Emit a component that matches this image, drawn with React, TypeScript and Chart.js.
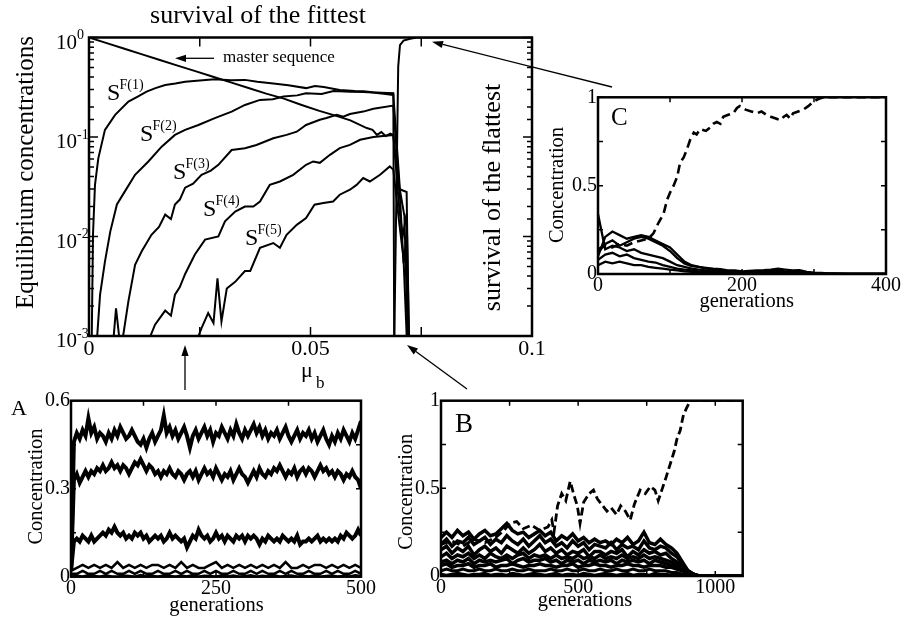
import React, { useEffect, useRef } from 'react';
import { Chart, registerables } from 'chart.js';

Chart.register(...registerables);

const FONT = '"Liberation Serif", "Times New Roman", serif';
Chart.defaults.font.family = FONT;

// ---------------- main panel: equilibrium concentrations vs mu_b ----------------
const MU_MASTER = [0, 0.004, 0.008, 0.012, 0.016, 0.02, 0.024, 0.028, 0.032, 0.036, 0.04, 0.044, 0.048, 0.052, 0.056, 0.059, 0.0627, 0.064, 0.065, 0.066, 0.067, 0.068, 0.0687, 0.07, 0.0717, 0.0722];
const C_MASTER = [1.0, 0.878, 0.771, 0.677, 0.595, 0.522, 0.459, 0.403, 0.354, 0.311, 0.273, 0.243, 0.21, 0.183, 0.162, 0.147, 0.123, 0.118, 0.105, 0.112, 0.102, 0.108, 0.105, 0.03, 0.028, 0.0008];

const MU_SF1 = [0.0006, 0.0009, 0.00135, 0.0021, 0.0036, 0.0059, 0.0089, 0.011, 0.013, 0.015, 0.0172, 0.0195, 0.0217, 0.025, 0.0284, 0.032, 0.0352, 0.038, 0.0416, 0.045, 0.049, 0.051, 0.053, 0.0566, 0.06, 0.062, 0.064, 0.066, 0.0687, 0.0689];
const C_SF1 = [0.0008, 0.0104, 0.033, 0.061, 0.118, 0.167, 0.227, 0.255, 0.286, 0.31, 0.333, 0.345, 0.36, 0.37, 0.38, 0.372, 0.375, 0.36, 0.345, 0.332, 0.31, 0.325, 0.318, 0.297, 0.29, 0.288, 0.281, 0.279, 0.275, 0.0008];

const MU_SF2 = [0.0017, 0.0025, 0.0036, 0.0048, 0.0063, 0.0081, 0.0104, 0.0134, 0.0164, 0.0194, 0.0217, 0.0247, 0.0284, 0.0322, 0.0352, 0.0386, 0.0415, 0.0439, 0.047, 0.049, 0.0525, 0.0552, 0.059, 0.062, 0.064, 0.0665, 0.0687, 0.0702, 0.0712, 0.072];
const C_SF2 = [0.0008, 0.0026, 0.0056, 0.0112, 0.021, 0.0284, 0.0417, 0.0568, 0.08, 0.105, 0.118, 0.132, 0.155, 0.18, 0.21, 0.236, 0.24, 0.255, 0.262, 0.275, 0.27, 0.29, 0.285, 0.283, 0.28, 0.272, 0.265, 0.029, 0.016, 0.0008];

const MU_SF3 = [0.0054, 0.0061, 0.0069, 0.0077, 0.0089, 0.0104, 0.0119, 0.0141, 0.0158, 0.0172, 0.0185, 0.0194, 0.0205, 0.0217, 0.0235, 0.0254, 0.0275, 0.0292, 0.0322, 0.0352, 0.0378, 0.0416, 0.0446, 0.0469, 0.049, 0.0521, 0.0536, 0.0559, 0.0574, 0.0589, 0.0619, 0.0642, 0.0687, 0.0702, 0.071, 0.0716, 0.0722];
const C_SF3 = [0.0008, 0.0019, 0.0009, 0.001, 0.00224, 0.0052, 0.0071, 0.0104, 0.0125, 0.0166, 0.015, 0.021, 0.0235, 0.031, 0.034, 0.0417, 0.046, 0.0525, 0.074, 0.077, 0.083, 0.097, 0.105, 0.113, 0.132, 0.149, 0.155, 0.167, 0.16, 0.17, 0.18, 0.192, 0.207, 0.025, 0.0054, 0.0093, 0.0008];

const MU_SF4 = [0.013, 0.0149, 0.0172, 0.0185, 0.0194, 0.0205, 0.0217, 0.0239, 0.0262, 0.0292, 0.0307, 0.033, 0.0352, 0.0371, 0.0386, 0.0408, 0.0431, 0.0461, 0.049, 0.0506, 0.0521, 0.0544, 0.0566, 0.0589, 0.0612, 0.0642, 0.0687, 0.07, 0.0708, 0.0717, 0.0723];
const C_SF4 = [0.0008, 0.0013, 0.0018, 0.0016, 0.0026, 0.0031, 0.0042, 0.0066, 0.0093, 0.01, 0.0142, 0.0178, 0.02, 0.02, 0.0225, 0.033, 0.0357, 0.0417, 0.0526, 0.0568, 0.055, 0.0662, 0.0773, 0.0834, 0.0937, 0.1, 0.105, 0.02, 0.01, 0.017, 0.0008];

const MU_SF5 = [0.0239, 0.0254, 0.0269, 0.0281, 0.029, 0.0299, 0.0311, 0.033, 0.0352, 0.0364, 0.0386, 0.0416, 0.0431, 0.0446, 0.0469, 0.049, 0.0509, 0.0529, 0.0551, 0.0566, 0.0589, 0.0604, 0.0619, 0.0634, 0.0657, 0.0679, 0.0687, 0.07, 0.071, 0.0718];
const C_SF5 = [0.0008, 0.0012, 0.0017, 0.00135, 0.0038, 0.0014, 0.003, 0.0035, 0.0045, 0.0045, 0.0077, 0.0086, 0.0077, 0.0104, 0.0131, 0.0153, 0.0209, 0.0217, 0.0225, 0.0263, 0.0295, 0.033, 0.0387, 0.0357, 0.0417, 0.0506, 0.047, 0.014, 0.006, 0.0008];

const MU_FLAT = [0.0689, 0.0698, 0.0702, 0.071, 0.0725, 0.074, 0.1];
const C_FLAT = [0.0008, 0.51, 0.84, 0.93, 0.97, 1.0, 1.0];

const MAIN_X_TICKS = [0, 0.05, 0.1];
const MAIN_X_TEXT = ['0', '0.05', '0.1'];
const MAIN_Y_EXPONENTS = [0, -1, -2, -3];

// ---------------- panel A ----------------
const GEN_A5 = [0, 5, 10, 15, 20, 25, 30, 35, 40, 45, 50, 55, 60, 65, 70, 75, 80, 85, 90, 95, 100, 105, 110, 115, 120, 125, 130, 135, 140, 145, 150, 155, 160, 165, 170, 175, 180, 185, 190, 195, 200, 205, 210, 215, 220, 225, 230, 235, 240, 245, 250, 255, 260, 265, 270, 275, 280, 285, 290, 295, 300, 305, 310, 315, 320, 325, 330, 335, 340, 345, 350, 355, 360, 365, 370, 375, 380, 385, 390, 395, 400, 405, 410, 415, 420, 425, 430, 435, 440, 445, 450, 455, 460, 465, 470, 475, 480, 485, 490, 495, 500];
const A1 = [0.02,
  0.46, 0.49, 0.47, 0.50, 0.48, 0.54, 0.49, 0.51, 0.47, 0.49,
  0.48, 0.46, 0.49, 0.47, 0.50, 0.48, 0.51, 0.49, 0.47, 0.48,
  0.50, 0.48, 0.46, 0.45, 0.47, 0.44, 0.47, 0.49, 0.46, 0.48,
  0.50, 0.55, 0.49, 0.51, 0.48, 0.50, 0.47, 0.49, 0.51, 0.48,
  0.44, 0.48, 0.50, 0.47, 0.49, 0.51, 0.48, 0.50, 0.46, 0.49,
  0.48, 0.51, 0.49, 0.47, 0.50, 0.48, 0.52, 0.49, 0.47, 0.50,
  0.48, 0.50, 0.52, 0.49, 0.51, 0.48, 0.50, 0.47, 0.49, 0.48,
  0.50, 0.47, 0.49, 0.51, 0.48, 0.46, 0.48, 0.50, 0.47, 0.49,
  0.48, 0.50, 0.47, 0.49, 0.46, 0.48, 0.50, 0.47, 0.45, 0.48,
  0.46, 0.49, 0.47, 0.50, 0.48, 0.46, 0.49, 0.47, 0.50, 0.53];
const A2 = [0.02,
  0.33, 0.35, 0.32, 0.34, 0.36, 0.34, 0.36, 0.35, 0.37, 0.36,
  0.38, 0.36, 0.37, 0.39, 0.37, 0.38, 0.36, 0.38, 0.37, 0.35,
  0.37, 0.39, 0.38, 0.40, 0.38, 0.36, 0.38, 0.37, 0.35, 0.36,
  0.34, 0.36, 0.35, 0.37, 0.35, 0.34, 0.36, 0.35, 0.33, 0.35,
  0.36, 0.34, 0.36, 0.33, 0.35, 0.37, 0.35, 0.36, 0.34, 0.37,
  0.35, 0.33, 0.35, 0.34, 0.36, 0.33, 0.35, 0.37, 0.35, 0.34,
  0.32, 0.34, 0.36, 0.34, 0.37, 0.35, 0.34, 0.36, 0.35, 0.37,
  0.36, 0.38, 0.36, 0.34, 0.36, 0.35, 0.37, 0.34, 0.36, 0.37,
  0.35, 0.37, 0.36, 0.34, 0.36, 0.38, 0.36, 0.37, 0.35, 0.36,
  0.34, 0.36, 0.35, 0.33, 0.35, 0.34, 0.36, 0.34, 0.33, 0.30];
const A3 = [0.02,
  0.12, 0.13, 0.12, 0.14, 0.13, 0.12, 0.14, 0.12, 0.13, 0.14,
  0.15, 0.14, 0.16, 0.15, 0.17, 0.15, 0.14, 0.15, 0.13, 0.14,
  0.13, 0.15, 0.14, 0.15, 0.13, 0.14, 0.12, 0.13, 0.14, 0.13,
  0.14, 0.12, 0.13, 0.15, 0.13, 0.14, 0.13, 0.12, 0.13, 0.10,
  0.12, 0.14, 0.13, 0.16, 0.14, 0.13, 0.14, 0.12, 0.13, 0.15,
  0.13, 0.14, 0.12, 0.14, 0.13, 0.12, 0.14, 0.13, 0.14, 0.12,
  0.14, 0.13, 0.14, 0.13, 0.11, 0.13, 0.12, 0.14, 0.13, 0.12,
  0.13, 0.12, 0.14, 0.13, 0.12, 0.13, 0.12, 0.14, 0.11, 0.12,
  0.12, 0.13, 0.12, 0.13, 0.14, 0.12, 0.13, 0.12, 0.13, 0.12,
  0.13, 0.12, 0.14, 0.13, 0.15, 0.14, 0.13, 0.14, 0.16, 0.14];
const GEN_A10 = [0, 10, 20, 30, 40, 50, 60, 70, 80, 90, 100, 110, 120, 130, 140, 150, 160, 170, 180, 190, 200, 210, 220, 230, 240, 250, 260, 270, 280, 290, 300, 310, 320, 330, 340, 350, 360, 370, 380, 390, 400, 410, 420, 430, 440, 450, 460, 470, 480, 490, 500];
const A4 = [0.02,
  0.03, 0.04, 0.03, 0.04, 0.03, 0.04, 0.03, 0.05, 0.03, 0.04,
  0.03, 0.04, 0.03, 0.04, 0.04, 0.03, 0.04, 0.03, 0.05, 0.03,
  0.04, 0.03, 0.03, 0.04, 0.05, 0.03, 0.04, 0.03, 0.04, 0.03,
  0.04, 0.03, 0.04, 0.03, 0.04, 0.03, 0.05, 0.03, 0.03, 0.04,
  0.03, 0.04, 0.04, 0.03, 0.04, 0.03, 0.04, 0.03, 0.04, 0.03];
const A5 = [0.01,
  0.01, 0.02, 0.01, 0.01, 0.02, 0.01, 0.02, 0.01, 0.01, 0.02,
  0.01, 0.02, 0.01, 0.01, 0.02, 0.01, 0.01, 0.02, 0.01, 0.02,
  0.01, 0.01, 0.02, 0.01, 0.02, 0.01, 0.01, 0.02, 0.01, 0.01,
  0.02, 0.01, 0.02, 0.01, 0.01, 0.02, 0.01, 0.02, 0.01, 0.01,
  0.02, 0.01, 0.01, 0.02, 0.01, 0.02, 0.01, 0.01, 0.02, 0.01];
const A6 = [0.0,
  0.004, 0.0, 0.006, 0.002, 0.0, 0.005, 0.001, 0.0, 0.004, 0.002,
  0.0, 0.006, 0.001, 0.003, 0.0, 0.005, 0.002, 0.0, 0.004, 0.001,
  0.006, 0.0, 0.003, 0.002, 0.0, 0.005, 0.001, 0.004, 0.0, 0.002,
  0.005, 0.0, 0.003, 0.001, 0.006, 0.0, 0.002, 0.004, 0.0, 0.003,
  0.001, 0.005, 0.0, 0.002, 0.004, 0.0, 0.003, 0.001, 0.005, 0.002];
const A_X_TICKS = [0, 250, 500];
const A_X_TEXT = ['0', '250', '500'];
const A_Y_TICKS = [0, 0.3, 0.6];
const A_Y_TEXT = ['0', '0.3', '0.6'];

// ---------------- panel B ----------------
const GEN_B = [0, 20, 40, 60, 80, 100, 120, 140, 160, 180, 200, 220, 240, 260, 280, 300, 320, 340, 360, 380, 400, 420, 440, 460, 480, 500, 520, 540, 560, 580, 600, 620, 640, 660, 680, 700, 720, 740, 760, 780, 800, 820, 840, 860, 880, 900, 920, 940, 960, 980, 1000, 1020, 1040, 1060, 1080, 1100];
const B1 = [0.22, 0.25, 0.22, 0.26, 0.23, 0.25, 0.21, 0.24, 0.26, 0.23, 0.24, 0.27, 0.30, 0.26, 0.24, 0.25, 0.22, 0.24, 0.26, 0.23,
  0.25, 0.20, 0.23, 0.21, 0.24, 0.20, 0.22, 0.19, 0.21, 0.19,
  0.20, 0.18, 0.21, 0.19, 0.22, 0.18, 0.20, 0.25, 0.19, 0.18,
  0.21, 0.18, 0.16, 0.13, 0.08, 0.03, 0.01, 0, 0, 0,
  0, 0, 0, 0, 0, 0];
const B7 = [0.18, 0.21, 0.17, 0.20, 0.19, 0.22, 0.18, 0.20, 0.22, 0.18, 0.21, 0.19, 0.23, 0.20, 0.18, 0.21, 0.17, 0.20, 0.23, 0.19,
  0.21, 0.17, 0.19, 0.16, 0.20, 0.17, 0.19, 0.15, 0.18, 0.17,
  0.16, 0.19, 0.15, 0.18, 0.16, 0.17, 0.15, 0.20, 0.16, 0.15,
  0.17, 0.16, 0.13, 0.11, 0.07, 0.03, 0.01, 0, 0, 0,
  0, 0, 0, 0, 0, 0];
const B2 = [0.15, 0.17, 0.13, 0.16, 0.14, 0.17, 0.12, 0.15, 0.17, 0.14, 0.16, 0.13, 0.17, 0.15, 0.13, 0.16, 0.13, 0.15, 0.18, 0.14,
  0.16, 0.13, 0.15, 0.12, 0.14, 0.13, 0.15, 0.11, 0.14, 0.14,
  0.12, 0.14, 0.13, 0.15, 0.11, 0.14, 0.12, 0.15, 0.13, 0.14,
  0.12, 0.13, 0.10, 0.08, 0.055, 0.03, 0.01, 0, 0, 0,
  0, 0, 0, 0, 0, 0];
const B3 = [0.11, 0.13, 0.10, 0.12, 0.11, 0.13, 0.10, 0.12, 0.10, 0.13, 0.11, 0.10, 0.12, 0.10, 0.12, 0.13, 0.10, 0.12, 0.11, 0.12,
  0.10, 0.12, 0.10, 0.11, 0.10, 0.12, 0.10, 0.11, 0.10, 0.12,
  0.10, 0.11, 0.10, 0.12, 0.10, 0.11, 0.10, 0.12, 0.10, 0.11,
  0.10, 0.09, 0.08, 0.06, 0.04, 0.02, 0.01, 0, 0, 0,
  0, 0, 0, 0, 0, 0];
const B8 = [0.08, 0.09, 0.07, 0.09, 0.08, 0.10, 0.07, 0.09, 0.08, 0.09, 0.08, 0.09, 0.10, 0.07, 0.09, 0.10, 0.08, 0.09, 0.09, 0.10,
  0.08, 0.09, 0.07, 0.09, 0.08, 0.09, 0.07, 0.09, 0.08, 0.09,
  0.08, 0.09, 0.07, 0.09, 0.08, 0.09, 0.08, 0.09, 0.07, 0.09,
  0.08, 0.07, 0.06, 0.05, 0.035, 0.015, 0.005, 0, 0, 0,
  0, 0, 0, 0, 0, 0];
const B4 = [0.06, 0.07, 0.05, 0.06, 0.06, 0.07, 0.05, 0.06, 0.06, 0.07, 0.05, 0.06, 0.06, 0.07, 0.06, 0.05, 0.06, 0.06, 0.07, 0.06,
  0.06, 0.05, 0.06, 0.06, 0.07, 0.05, 0.06, 0.06, 0.07, 0.06,
  0.06, 0.05, 0.06, 0.06, 0.07, 0.06, 0.06, 0.05, 0.06, 0.06,
  0.06, 0.05, 0.05, 0.04, 0.03, 0.01, 0, 0, 0, 0,
  0, 0, 0, 0, 0, 0];
const B5 = [0.03, 0.04, 0.03, 0.03, 0.04, 0.03, 0.03, 0.04, 0.03, 0.03, 0.04, 0.03, 0.03, 0.04, 0.03, 0.03, 0.04, 0.03, 0.03, 0.03,
  0.04, 0.03, 0.03, 0.04, 0.03, 0.03, 0.04, 0.03, 0.03, 0.04,
  0.03, 0.03, 0.04, 0.03, 0.03, 0.04, 0.03, 0.03, 0.04, 0.03,
  0.03, 0.03, 0.02, 0.02, 0.01, 0.01, 0, 0, 0, 0,
  0, 0, 0, 0, 0, 0];
const B6 = [0.01, 0.005, 0.01, 0.015, 0.01, 0.005, 0.01, 0.01, 0.015, 0.005, 0.01, 0.01, 0.005, 0.015, 0.01, 0.005, 0.01, 0.015, 0.01, 0.005,
  0.01, 0.015, 0.005, 0.01, 0.01, 0.005, 0.015, 0.01, 0.005, 0.01,
  0.015, 0.01, 0.005, 0.01, 0.015, 0.005, 0.01, 0.01, 0.005, 0.015,
  0.01, 0.01, 0.005, 0.01, 0.005, 0, 0, 0, 0, 0,
  0, 0, 0, 0, 0, 0];
const GEN_BF = [0, 40, 80, 120, 160, 200, 230, 250, 276, 300, 330, 360, 390, 404, 412, 425, 440, 455, 471, 485, 497, 507, 520, 540, 556, 570, 590, 605, 620, 640, 655, 672, 690, 705, 726, 745, 763, 780, 792, 805, 820, 836, 850, 860, 872, 884, 896, 909, 1000, 1100];
const BF = [0.18, 0.20, 0.17, 0.21, 0.19, 0.22, 0.26, 0.30, 0.31, 0.27, 0.29, 0.26, 0.28, 0.32, 0.25, 0.40, 0.47, 0.43, 0.54, 0.46, 0.40, 0.30, 0.42, 0.47, 0.49, 0.44, 0.40, 0.37, 0.39, 0.35, 0.40, 0.37, 0.32, 0.41, 0.49, 0.47, 0.51, 0.49, 0.43, 0.49, 0.56, 0.64, 0.71, 0.78, 0.83, 0.92, 0.96, 1.0, 1.0, 1.0];
const B_X_TICKS = [0, 500, 1000];
const B_X_TEXT = ['0', '500', '1000'];
const B_Y_TICKS = [0, 0.5, 1];
const B_Y_TEXT = ['0', '0.5', '1'];

// ---------------- panel C ----------------
const GEN_C = [0, 10, 20, 30, 40, 50, 60, 70, 80, 90, 100, 110, 120, 130, 140, 150, 160, 170, 180, 190, 200, 210, 220, 230, 240, 250, 260, 270, 280, 290, 300, 310, 320, 330, 340, 350, 360, 370, 380, 390, 400];
const C1 = [0.10, 0.21, 0.24, 0.22, 0.20, 0.21, 0.22, 0.21, 0.19, 0.17, 0.15, 0.11, 0.07, 0.05, 0.04, 0.035, 0.03, 0.028, 0.02, 0.02, 0.015, 0.018, 0.02, 0.022, 0.025, 0.03, 0.025, 0.02, 0.022, 0.012, 0.008, 0.006, 0.004, 0.003, 0.002, 0.001, 0, 0, 0, 0, 0];
const C2 = [0.12, 0.17, 0.19, 0.16, 0.18, 0.20, 0.21, 0.20, 0.18, 0.16, 0.13, 0.09, 0.06, 0.045, 0.04, 0.03, 0.025, 0.02, 0.015, 0.012, 0.01, 0.012, 0.015, 0.012, 0.018, 0.02, 0.015, 0.012, 0.01, 0.008, 0.005, 0.003, 0.002, 0.001, 0, 0, 0, 0, 0, 0, 0];
const C3 = [0.34, 0.14, 0.16, 0.15, 0.13, 0.14, 0.12, 0.11, 0.10, 0.09, 0.07, 0.05, 0.04, 0.03, 0.025, 0.02, 0.018, 0.015, 0.012, 0.01, 0.008, 0.01, 0.012, 0.01, 0.015, 0.012, 0.01, 0.008, 0.006, 0.004, 0.003, 0.002, 0.001, 0, 0, 0, 0, 0, 0, 0, 0];
const C4 = [0.08, 0.11, 0.12, 0.10, 0.11, 0.09, 0.08, 0.07, 0.065, 0.05, 0.04, 0.03, 0.025, 0.02, 0.015, 0.012, 0.01, 0.008, 0.006, 0.005, 0.005, 0.006, 0.008, 0.006, 0.01, 0.008, 0.006, 0.005, 0.004, 0.003, 0.002, 0.001, 0, 0, 0, 0, 0, 0, 0, 0, 0];
const C5 = [0.05, 0.07, 0.06, 0.07, 0.06, 0.05, 0.05, 0.04, 0.035, 0.03, 0.025, 0.02, 0.015, 0.012, 0.01, 0.008, 0.006, 0.005, 0.004, 0.003, 0.003, 0.004, 0.005, 0.004, 0.006, 0.005, 0.004, 0.003, 0.002, 0.002, 0.001, 0, 0, 0, 0, 0, 0, 0, 0, 0, 0];
const GEN_CF = [0, 10, 20, 30, 40, 50, 60, 70, 77, 84, 91, 96, 100, 105, 110, 114, 119, 123, 128, 133, 137, 142, 150, 156, 160, 165, 170, 174, 180, 188, 193, 197, 205, 213, 221, 227, 234, 240, 247, 253, 258, 262, 267, 271, 278, 285, 292, 299, 306, 313, 330, 400];
const CF = [0.14, 0.16, 0.15, 0.17, 0.16, 0.18, 0.19, 0.20, 0.23, 0.29, 0.34, 0.42, 0.46, 0.50, 0.55, 0.63, 0.66, 0.70, 0.76, 0.80, 0.79, 0.82, 0.81, 0.83, 0.85, 0.86, 0.85, 0.89, 0.90, 0.91, 0.94, 0.95, 0.93, 0.92, 0.91, 0.92, 0.90, 0.89, 0.88, 0.87, 0.89, 0.90, 0.88, 0.91, 0.92, 0.93, 0.95, 0.975, 0.99, 1.0, 1.0, 1.0];
const C_X_TICKS = [0, 200, 400];
const C_X_TEXT = ['0', '200', '400'];
const C_Y_TICKS = [0, 0.5, 1];
const C_Y_TEXT = ['0', '0.5', '1'];

// ---------------- helpers ----------------
const pts = (xs: number[], ys: number[]) => xs.map((x, i) => ({ x, y: ys[i] }));

function labelAt(values: number[], texts: string[]) {
  return (v: number | string) => {
    const n = Number(v);
    const i = values.findIndex((l) => Math.abs(l - n) < 1e-9);
    return i >= 0 ? texts[i] : '';
  };
}

function line(xs: number[], ys: number[], width: number, dash?: number[]) {
  return {
    data: pts(xs, ys),
    borderColor: '#000',
    borderWidth: width,
    borderDash: dash || [],
    pointRadius: 0,
    fill: false,
    tension: 0,
  };
}

function framePlugin(o: { major: number; minor: number; border: number; tickWidth: number }) {
  return {
    id: 'frame',
    afterDraw(chart: any) {
      const { ctx, chartArea: a } = chart;
      ctx.save();
      ctx.strokeStyle = '#000';
      ctx.lineWidth = o.tickWidth;
      ctx.beginPath();
      for (const s of Object.values(chart.scales) as any[]) {
        const log = s.type === 'logarithmic';
        for (const t of s.ticks) {
          const v = t.value;
          let len = o.major;
          if (log) {
            const e = Math.log10(v);
            if (Math.abs(e - Math.round(e)) > 1e-6) len = o.minor;
          }
          const p = s.getPixelForValue(v);
          if (s.isHorizontal()) {
            ctx.moveTo(p, a.bottom);
            ctx.lineTo(p, a.bottom - len);
            ctx.moveTo(p, a.top);
            ctx.lineTo(p, a.top + len);
          } else {
            ctx.moveTo(a.left, p);
            ctx.lineTo(a.left + len, p);
            ctx.moveTo(a.right, p);
            ctx.lineTo(a.right - len, p);
          }
        }
      }
      ctx.stroke();
      ctx.lineWidth = o.border;
      ctx.strokeRect(a.left, a.top, a.right - a.left, a.bottom - a.top);
      ctx.restore();
    },
  };
}

const powerLabelPlugin = {
  id: 'powerLabels',
  afterDraw(chart: any) {
    const s = chart.scales.y;
    const { ctx, chartArea: a } = chart;
    ctx.save();
    ctx.fillStyle = '#000';
    ctx.textBaseline = 'alphabetic';
    for (const e of MAIN_Y_EXPONENTS) {
      const p = s.getPixelForValue(Math.pow(10, e));
      ctx.font = `21px ${FONT}`;
      ctx.textAlign = 'right';
      ctx.fillText('10', a.left - 12, p + 11);
      ctx.font = `14px ${FONT}`;
      ctx.textAlign = 'left';
      ctx.fillText(String(e), a.left - 12, p + 1.5);
    }
    ctx.restore();
  },
};

function mainConfig(): any {
  return {
    type: 'line',
    data: {
      datasets: [
        line(MU_MASTER, C_MASTER, 2),
        line(MU_SF1, C_SF1, 2),
        line(MU_SF2, C_SF2, 2),
        line(MU_SF3, C_SF3, 2),
        line(MU_SF4, C_SF4, 2),
        line(MU_SF5, C_SF5, 2),
        line(MU_FLAT, C_FLAT, 2),
      ],
    },
    options: {
      responsive: false,
      animation: false,
      layout: { padding: { left: 0, top: 37.5, right: 28, bottom: 0 } },
      plugins: { legend: { display: false }, tooltip: { enabled: false } },
      scales: {
        x: {
          type: 'linear',
          min: 0,
          max: 0.1,
          grid: { display: false, drawTicks: false },
          border: { display: false },
          ticks: {
            stepSize: 0.025,
            autoSkip: false,
            maxRotation: 0,
            padding: 0,
            color: '#000',
            font: { family: FONT, size: 22 },
            callback: labelAt(MAIN_X_TICKS, MAIN_X_TEXT),
          },
          afterFit: (s: any) => { s.height = 44; },
        },
        y: {
          type: 'logarithmic',
          min: 0.001,
          max: 1,
          grid: { display: false, drawTicks: false },
          border: { display: false },
          ticks: { display: false },
          afterFit: (s: any) => { s.width = 89; },
        },
      },
    },
    plugins: [framePlugin({ major: 9, minor: 5, border: 2.5, tickWidth: 1.5 }), powerLabelPlugin],
  };
}

function panelConfig(p: {
  datasets: any[];
  xMax: number; yMax: number; xStep: number; yStep: number;
  xTicks: number[]; xText: string[]; yTicks: number[]; yText: string[];
  padding: { left: number; top: number; right: number; bottom: number };
  yWidth: number; xHeight: number;
}): any {
  return {
    type: 'line',
    data: { datasets: p.datasets },
    options: {
      responsive: false,
      animation: false,
      layout: { padding: p.padding },
      plugins: { legend: { display: false }, tooltip: { enabled: false } },
      scales: {
        x: {
          type: 'linear',
          min: 0,
          max: p.xMax,
          grid: { display: false, drawTicks: false },
          border: { display: false },
          ticks: {
            stepSize: p.xStep,
            autoSkip: false,
            includeBounds: false,
            maxRotation: 0,
            padding: 0,
            color: '#000',
            font: { family: FONT, size: 20 },
            callback: labelAt(p.xTicks, p.xText),
          },
          afterFit: (s: any) => { s.height = p.xHeight; },
        },
        y: {
          type: 'linear',
          min: 0,
          max: p.yMax,
          grid: { display: false, drawTicks: false },
          border: { display: false },
          ticks: {
            stepSize: p.yStep,
            autoSkip: false,
            padding: 1,
            color: '#000',
            font: { family: FONT, size: 20 },
            callback: labelAt(p.yTicks, p.yText),
          },
          afterFit: (s: any) => { s.width = p.yWidth; },
        },
      },
    },
    plugins: [framePlugin({ major: 5, minor: 3, border: 2.5, tickWidth: 1.5 })],
  };
}

function configA() {
  return panelConfig({
    datasets: [
      line(GEN_A10, A6, 2.5),
      line(GEN_A10, A5, 2.5),
      line(GEN_A10, A4, 2.5),
      line(GEN_A5, A3, 4),
      line(GEN_A5, A2, 4),
      line(GEN_A5, A1, 4),
    ],
    xMax: 500, yMax: 0.6, xStep: 125, yStep: 0.15,
    xTicks: A_X_TICKS, xText: A_X_TEXT, yTicks: A_Y_TICKS, yText: A_Y_TEXT,
    padding: { left: 0, top: 20.7, right: 39, bottom: 0 },
    yWidth: 71, xHeight: 47.3,
  });
}

function configB() {
  return panelConfig({
    datasets: [
      line(GEN_B, B6, 3),
      line(GEN_B, B5, 3),
      line(GEN_B, B4, 3.5),
      line(GEN_B, B8, 3.5),
      line(GEN_B, B3, 3.5),
      line(GEN_B, B2, 3.5),
      line(GEN_B, B7, 3.5),
      line(GEN_B, B1, 3.5),
      line(GEN_BF, BF, 2.8, [8, 4]),
    ],
    xMax: 1100, yMax: 1, xStep: 250, yStep: 0.25,
    xTicks: B_X_TICKS, xText: B_X_TEXT, yTicks: B_Y_TICKS, yText: B_Y_TEXT,
    padding: { left: 0, top: 20.7, right: 37.3, bottom: 0 },
    yWidth: 41, xHeight: 48,
  });
}

function configC() {
  return panelConfig({
    datasets: [
      line(GEN_C, C5, 2.3),
      line(GEN_C, C4, 2.3),
      line(GEN_C, C3, 2.3),
      line(GEN_C, C2, 2.3),
      line(GEN_C, C1, 2.3),
      line(GEN_CF, CF, 2.6, [9, 5]),
    ],
    xMax: 400, yMax: 1, xStep: 100, yStep: 0.25,
    xTicks: C_X_TICKS, xText: C_X_TEXT, yTicks: C_Y_TICKS, yText: C_Y_TEXT,
    padding: { left: 0, top: 17.3, right: 18, bottom: 0 },
    yWidth: 58, xHeight: 46,
  });
}

function ChartCanvas(props: { left: number; top: number; width: number; height: number; make: () => any }) {
  const ref = useRef<HTMLCanvasElement>(null);
  useEffect(() => {
    const chart = new Chart(ref.current as HTMLCanvasElement, props.make());
    return () => chart.destroy();
  }, []);
  return (
    <canvas
      ref={ref}
      width={props.width}
      height={props.height}
      style={{ position: 'absolute', left: props.left, top: props.top, width: props.width, height: props.height }}
    />
  );
}

function Arrow(p: { x1: number; y1: number; x2: number; y2: number }) {
  const ang = Math.atan2(p.y2 - p.y1, p.x2 - p.x1);
  const L = 11;
  const W = 3.6;
  const bx = p.x2 - L * Math.cos(ang);
  const by = p.y2 - L * Math.sin(ang);
  const px = -Math.sin(ang) * W;
  const py = Math.cos(ang) * W;
  return (
    <g>
      <line x1={p.x1} y1={p.y1} x2={bx} y2={by} stroke="#000" strokeWidth={1.3} />
      <polygon points={`${p.x2},${p.y2} ${bx + px},${by + py} ${bx - px},${by - py}`} fill="#000" />
    </g>
  );
}

function SLabel(p: { x: number; y: number; n: number }) {
  return (
    <g>
      <text x={p.x} y={p.y} fontSize={24}>S</text>
      <text x={p.x + 12.5} y={p.y - 11} fontSize={14}>{`F(${p.n})`}</text>
    </g>
  );
}

export default function App() {
  return (
    <div style={{ position: 'fixed', left: 0, top: 0, width: 904, height: 624, background: '#fff', overflow: 'hidden' }}>
      <ChartCanvas left={0} top={0} width={560} height={380} make={mainConfig} />
      <ChartCanvas left={540} top={80} width={364} height={240} make={configC} />
      <ChartCanvas left={0} top={380} width={400} height={244} make={configA} />
      <ChartCanvas left={400} top={380} width={380} height={244} make={configB} />
      <svg
        width={904}
        height={624}
        style={{ position: 'absolute', left: 0, top: 0, pointerEvents: 'none' }}
        fontFamily={FONT}
        fill="#000"
      >
        <text x={258} y={23} fontSize={26} textAnchor="middle">survival of the fittest</text>
        <text transform="translate(33,172.5) rotate(-90)" fontSize={25} textAnchor="middle">Equilibrium concentrations</text>
        <text transform="translate(500,197.5) rotate(-90)" fontSize={26} textAnchor="middle">survival of the flattest</text>
        <text x={223} y={62} fontSize={17}>master sequence</text>
        <Arrow x1={214} y1={58.3} x2={175} y2={58.3} />
        <SLabel x={107} y={100} n={1} />
        <SLabel x={140} y={141} n={2} />
        <SLabel x={173} y={179} n={3} />
        <SLabel x={203} y={216} n={4} />
        <SLabel x={245} y={245} n={5} />
        <text x={301} y={377} fontSize={22}>μ</text>
        <text x={316} y={388} fontSize={17}>b</text>
        <Arrow x1={185} y1={390} x2={185} y2={345} />
        <Arrow x1={467} y1={389} x2={407} y2={345} />
        <Arrow x1={612} y1={87} x2={432} y2={41.7} />
        <text x={11} y={415} fontSize={22}>A</text>
        <text x={455} y={431.5} fontSize={27}>B</text>
        <text x={611} y={125} fontSize={25}>C</text>
        <text transform="translate(41.5,486.5) rotate(-90)" fontSize={20.5} textAnchor="middle">Concentration</text>
        <text transform="translate(411.5,491.7) rotate(-90)" fontSize={20.5} textAnchor="middle">Concentration</text>
        <text transform="translate(563,185) rotate(-90)" fontSize={20.5} textAnchor="middle">Concentration</text>
        <text x={216.5} y={610.5} fontSize={20.5} textAnchor="middle">generations</text>
        <text x={585} y={606} fontSize={20.5} textAnchor="middle">generations</text>
        <text x={746.7} y={307} fontSize={20.5} textAnchor="middle">generations</text>
      </svg>
    </div>
  );
}
